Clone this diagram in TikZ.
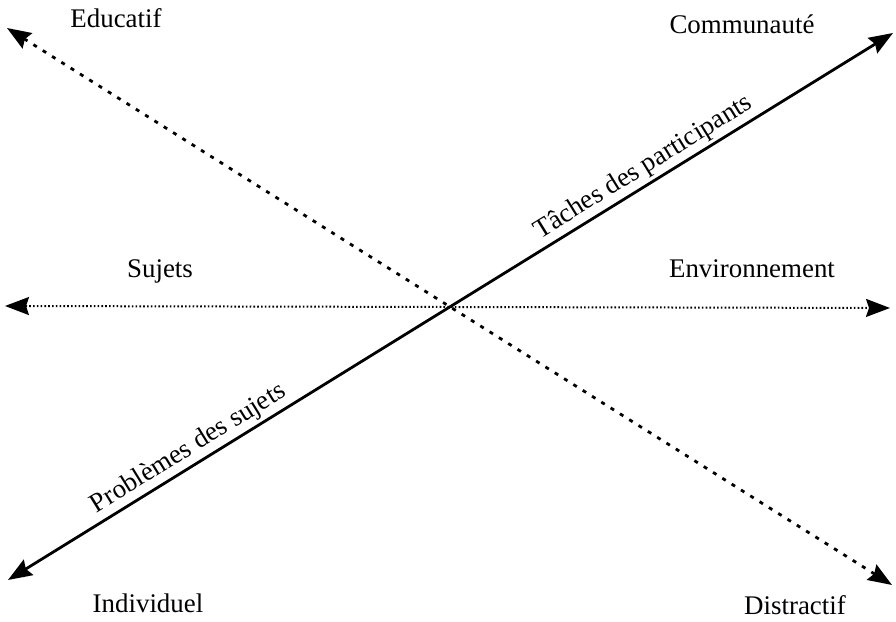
\documentclass[tikz,border=0pt]{standalone}
\usepackage{fontspec}
\setmainfont{Liberation Serif}
\usetikzlibrary{arrows.meta}
\begin{document}
\begin{tikzpicture}[x=1bp,y=1bp,
  >={Stealth[length=24bp,width=18bp,inset=3bp]},
  axislabel/.style={font=\fontsize{27}{29}\selectfont, inner sep=0pt, anchor=base},
  slopelabel/.style={font=\fontsize{27}{29}\selectfont, sloped, above, inner sep=3bp},
  solidaxis/.style={line width=2.8bp, <->},
  coarsedots/.style={line width=2.8bp, dash pattern=on 4bp off 7bp, <->},
  finedots/.style={line width=2bp, dash pattern=on 1.6bp off 2.2bp, <->}]
\useasboundingbox (0,0) rectangle (896,622);
% axis end points
\coordinate (ind) at (8,42);
\coordinate (com) at (893,589);
\coordinate (edu) at (7,594);
\coordinate (dis) at (892,37);
\coordinate (suj) at (5,316);
\coordinate (env) at (890,314);
% axes
\draw[finedots] (suj) -- (env);
\draw[coarsedots] (edu) -- (dis);
\draw[solidaxis] (ind) -- node[slopelabel, pos=0.214] {Problèmes des sujets}
  node[slopelabel, pos=0.728] {Tâches des participants} (com);
% end labels
\node[axislabel] (ledu) at (116,594) {Educatif};
\node[axislabel] (lcom) at (742,588) {Communauté};
\node[axislabel] (lsuj) at (160,344) {Sujets};
\node[axislabel] (lenv) at (752,344) {Environnement};
\node[axislabel] (lind) at (148,9) {Individuel};
\node[axislabel] (ldis) at (795,7) {Distractif};
\end{tikzpicture}
\end{document}
